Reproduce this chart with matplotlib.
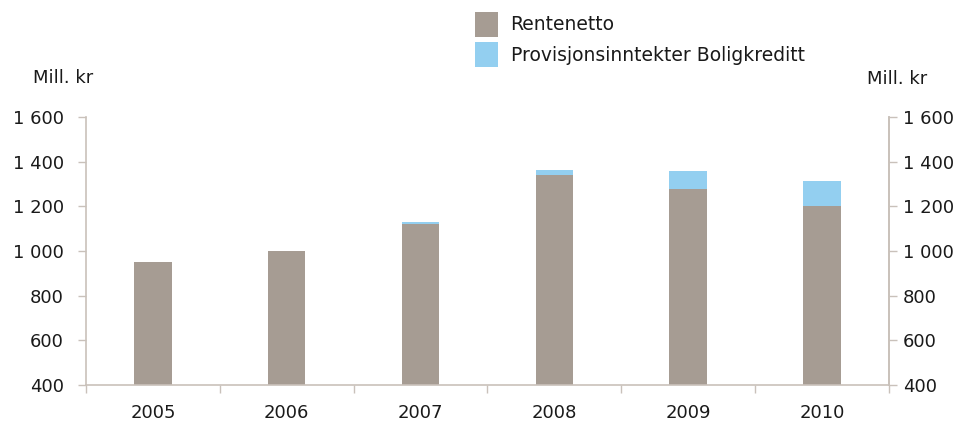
import matplotlib
matplotlib.use("Agg")
import matplotlib.pyplot as plt
from matplotlib.patches import Patch
import numpy as np

years = ["2005", "2006", "2007", "2008", "2009", "2010"]
rentenetto = [952, 1000, 1120, 1340, 1276, 1203]
provisjon = [0, 0, 8, 22, 82, 110]
yticks = [400, 600, 800, 1000, 1200, 1400, 1600]
ytick_labels = ["400", "600", "800", "1 000", "1 200", "1 400", "1 600"]

grey = "#a69c93"
blue = "#93cff0"
spine_col = "#c9c1ba"
text_col = "#1a1a1a"

plt.rcParams["font.family"] = ["DejaVu Sans"]

fig = plt.figure(figsize=(9.61, 4.30), dpi=100)
ax = fig.add_axes([0.0895, 0.1047, 0.8355, 0.623])

x = np.arange(len(years))
w = 0.28
ax.bar(x, rentenetto, width=w, bottom=0, color=grey, zorder=2)
ax.bar(x, provisjon, width=w, bottom=rentenetto, color=blue, zorder=2)

ax.set_xlim(-0.5, len(years) - 0.5)
ax.set_ylim(400, 1600)
ax.set_yticks(yticks)
ax.set_yticklabels(ytick_labels)
ax.set_xticks(x)
ax.set_xticklabels(years)
ax.set_xticks(np.arange(len(years) + 1) - 0.5, minor=True)
ax.tick_params(axis="x", which="major", length=0, pad=14, labelsize=13, labelcolor=text_col)
ax.tick_params(axis="x", which="minor", length=6, width=1, color=spine_col, direction="out")
ax.tick_params(axis="y", length=6, width=1, color=spine_col, pad=10, labelsize=13, labelcolor=text_col)

for side in ["left", "bottom", "right"]:
    ax.spines[side].set_color(spine_col)
    ax.spines[side].set_linewidth(1.2)
ax.spines["top"].set_visible(False)

ax2 = ax.twinx()
ax2.set_ylim(ax.get_ylim())
ax2.set_yticks(yticks)
ax2.set_yticklabels(ytick_labels)
ax2.tick_params(axis="y", length=6, width=1, color=spine_col, pad=4, labelsize=13, labelcolor=text_col)
for side in ["left", "bottom", "top"]:
    ax2.spines[side].set_visible(False)
ax2.spines["right"].set_color(spine_col)
ax2.spines["right"].set_linewidth(1.2)

fig.text(33 / 961, 1 - 78 / 430, "Mill. kr", fontsize=13,
         color=text_col, va="center", ha="left")
fig.text(927 / 961, 1 - 79 / 430, "Mill. kr", fontsize=13,
         color=text_col, va="center", ha="right")

handles = [Patch(facecolor=grey, edgecolor="none"), Patch(facecolor=blue, edgecolor="none")]
fig.legend(handles, ["Rentenetto", "Provisjonsinntekter Boligkreditt"],
           loc="upper left", bbox_to_anchor=(475 / 961, 1 - 12 / 430),
           frameon=False, prop={"size": 13.5},
           handlelength=1.2, handleheight=1.65,
           handletextpad=0.7, labelspacing=0.3, borderaxespad=0, borderpad=0,
           labelcolor=text_col)

fig.savefig("out.png", dpi=100, facecolor="white")
